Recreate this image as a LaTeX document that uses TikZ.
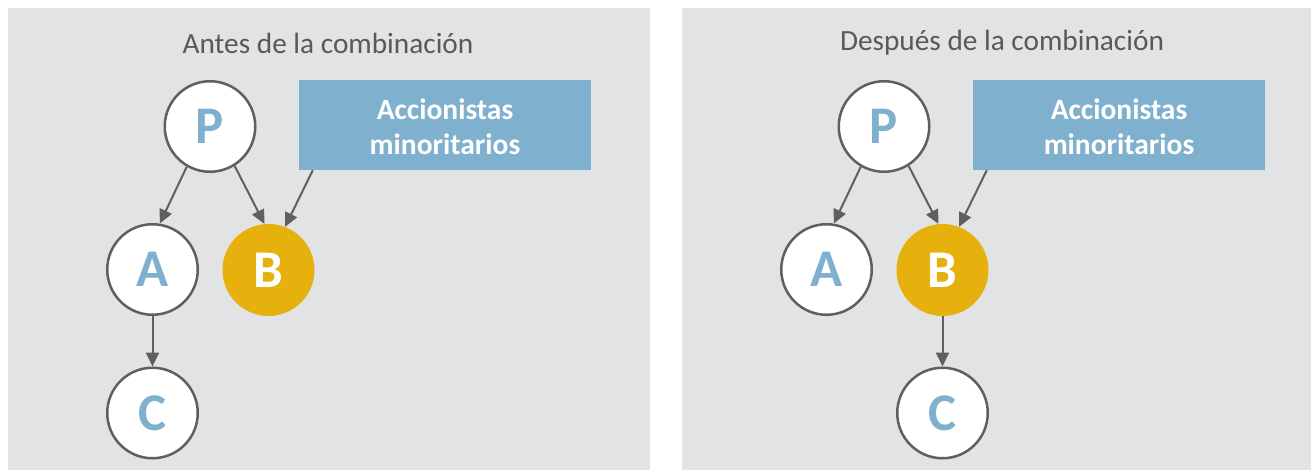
\documentclass[tikz,border=0pt]{standalone}
\usepackage{fontspec}
\setmainfont{Carlito}
\usetikzlibrary{arrows.meta,calc}
\definecolor{panelgrey}{HTML}{E2E3E5}
\definecolor{boxblue}{HTML}{7FB1CF}
\definecolor{gold}{HTML}{E6B10D}
\definecolor{linegrey}{HTML}{5F5F5F}
\definecolor{titlegrey}{HTML}{595959}
\begin{document}
\begin{tikzpicture}[x=1pt,y=-1pt,
  panel/.style={fill=panelgrey,draw=none},
  ent/.style={circle,draw=linegrey,line width=2.5pt,fill=white,minimum size=90.5pt,inner sep=0pt,
     font=\fontsize{53}{53}\selectfont\bfseries,text=boxblue},
  entgold/.style={circle,fill=gold,minimum size=92pt,inner sep=0pt,
     font=\fontsize{53}{53}\selectfont\bfseries,text=white},
  minbox/.style={fill=boxblue,minimum width=292pt,minimum height=90pt,inner sep=0pt},
  mintext/.style={inner sep=0pt,font=\fontsize{29.5}{35}\selectfont\bfseries,text=white,align=center},
  title/.style={font=\fontsize{29.3}{29.3}\selectfont,text=titlegrey},
  arr/.style={draw=linegrey,line width=2pt,-{Triangle[length=14pt,width=13pt]}}]
\useasboundingbox (0,0) rectangle (1311,470);
\fill[panel] (8,8) rectangle (650,470);
\fill[panel] (682,8) rectangle (1311,470);
% left panel
\node[title] (t1) at (328,43) {Antes de la combinación};
\node[ent] (P1) at (210,126.5) {P};
\node[ent] (A1) at (152.5,269.5) {A};
\node[entgold] (B1) at (268.5,270) {B};
\node[ent] (C1) at (152.5,413) {C};
\node[minbox] (M1) at (445,125) {};
\node[mintext] (L1) at ($(M1.center)+(0,2)$) {Accionistas\\minoritarios};
\coordinate (m1) at ($(M1.south west)+(14,0)$);
\draw[arr] (P1.240) -- (A1.81);
\draw[arr] (P1.302) -- (B1.95);
\draw[arr] (m1) -- (B1.69);
\draw[arr] (A1) -- (C1);
% right panel
\node[title] (t2) at (1002,43) {Después de la combinación};
\node[ent] (P2) at (884,126.5) {P};
\node[ent] (A2) at (826.5,269.5) {A};
\node[entgold] (B2) at (942.5,270) {B};
\node[ent] (C2) at (942.5,413) {C};
\node[minbox] (M2) at (1119,125) {};
\node[mintext] (L2) at ($(M2.center)+(0,2)$) {Accionistas\\minoritarios};
\coordinate (m2) at ($(M2.south west)+(14,0)$);
\draw[arr] (P2.240) -- (A2.81);
\draw[arr] (P2.302) -- (B2.95);
\draw[arr] (m2) -- (B2.69);
\draw[arr] (B2) -- (C2);
\end{tikzpicture}
\end{document}
